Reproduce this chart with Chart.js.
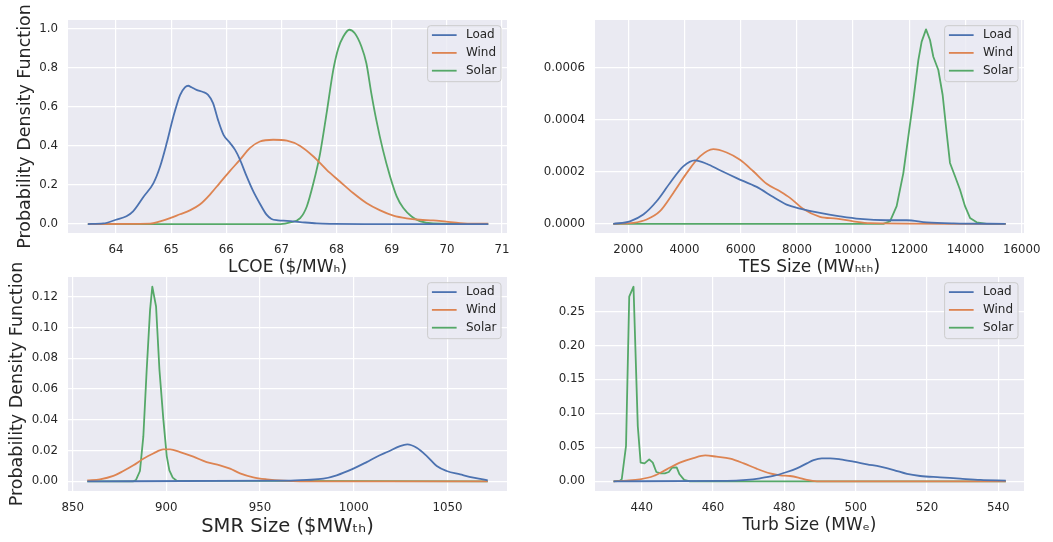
<!DOCTYPE html>
<html>
<head>
<meta charset="utf-8">
<script src="https://cdn.jsdelivr.net/npm/chart.js@4/dist/chart.umd.min.js"></script>
<style>
  html, body { margin: 0; padding: 0; background: #ffffff; }
  #wrap { position: relative; width: 1053px; height: 542px; }
  #wrap canvas { position: absolute; left: 0; top: 0; }
</style>
</head>
<body>
<div id="wrap">
  <canvas id="lcoe" width="1053" height="542"></canvas>
  <canvas id="tes" width="1053" height="542"></canvas>
  <canvas id="smr" width="1053" height="542"></canvas>
  <canvas id="turb" width="1053" height="542"></canvas>
</div>
<script>
const COLORS = { Load: "#4C72B0", Wind: "#DD8452", Solar: "#55A868" };
const FONT = "'DejaVu Sans', sans-serif";
const INK = "#262626";

// --- LCOE ($/MWh) ---
const lcoeLoadX = [63.49, 63.77, 64.0, 64.19, 64.31, 64.5, 64.68, 64.8, 64.92, 65.04, 65.16, 65.25, 65.31, 65.37, 65.46, 65.58, 65.67, 65.76, 65.85, 65.95, 66.07, 66.16, 66.25, 66.37, 66.49, 66.61, 66.73, 66.82, 66.94, 67.1, 67.34, 67.64, 67.94, 68.5, 69.5, 70.75];
const lcoeLoadY = [0, 0.003, 0.022, 0.04, 0.065, 0.14, 0.21, 0.295, 0.415, 0.55, 0.66, 0.70, 0.709, 0.701, 0.688, 0.677, 0.662, 0.62, 0.534, 0.457, 0.415, 0.38, 0.329, 0.244, 0.167, 0.104, 0.048, 0.026, 0.019, 0.016, 0.01, 0.003, 0.001, 0, 0, 0];
const lcoeWindX = [63.49, 64.62, 64.8, 64.98, 65.16, 65.34, 65.52, 65.7, 65.88, 66.06, 66.25, 66.43, 66.61, 66.85, 67.1, 67.34, 67.58, 67.82, 68.06, 68.3, 68.54, 68.79, 69.03, 69.27, 69.51, 69.75, 69.99, 70.24, 70.48, 70.75];
const lcoeWindY = [0, 0.002, 0.014, 0.03, 0.05, 0.07, 0.10, 0.15, 0.21, 0.27, 0.33, 0.39, 0.423, 0.432, 0.427, 0.40, 0.346, 0.278, 0.218, 0.159, 0.108, 0.07, 0.043, 0.029, 0.022, 0.019, 0.012, 0.005, 0.002, 0.002];
const lcoeSolarX = [63.49, 66.98, 67.16, 67.34, 67.46, 67.58, 67.7, 67.82, 67.94, 68.03, 68.12, 68.23, 68.33, 68.45, 68.54, 68.63, 68.72, 68.84, 68.97, 69.09, 69.21, 69.36, 69.51, 69.75, 70.75];
const lcoeSolarY = [0, 0, 0.008, 0.03, 0.09, 0.21, 0.36, 0.57, 0.79, 0.90, 0.96, 0.996, 0.978, 0.91, 0.824, 0.67, 0.534, 0.38, 0.244, 0.142, 0.082, 0.039, 0.015, 0.003, 0];
const lcoeXTicks = [64, 65, 66, 67, 68, 69, 70, 71];
const lcoeYTicks = [0, 0.2, 0.4, 0.6, 0.8, 1.0];
const lcoeYLabels = ["0.0", "0.2", "0.4", "0.6", "0.8", "1.0"];

// --- TES size (MWhth) ---
const tesLoadX = [1466, 2059, 2534, 3008, 3483, 3957, 4373, 4788, 5263, 5856, 6568, 7161, 7635, 8110, 8822, 9534, 10246, 11195, 11907, 12619, 13568, 15430];
const tesLoadY = [0, 0.00001, 0.000036, 0.000087, 0.000157, 0.000221, 0.000244, 0.000231, 0.000206, 0.000176, 0.000142, 0.000103, 0.000074, 0.000059, 0.000042, 0.000029, 0.000019, 0.000014, 0.000014, 0.000006, 0.000002, 0];
const tesWindX = [1466, 2178, 2653, 3127, 3602, 4076, 4551, 5025, 5500, 5975, 6449, 6924, 7398, 7754, 8229, 8822, 9415, 10008, 10602, 15430];
const tesWindY = [0, 0.000004, 0.000017, 0.000049, 0.000119, 0.000195, 0.000259, 0.000287, 0.000274, 0.000246, 0.000202, 0.000154, 0.000125, 0.0001, 0.000057, 0.000027, 0.00002, 0.00001, 0.000003, 0];
const tesSolarX = [1466, 11076, 11313, 11550, 11788, 11966, 12144, 12322, 12440, 12595, 12737, 12855, 13033, 13187, 13330, 13448, 13627, 13805, 13983, 14161, 14398, 14754, 15430];
const tesSolarY = [0, 0, 0.00001, 0.000068, 0.000195, 0.000336, 0.000476, 0.000629, 0.0007, 0.000747, 0.000706, 0.000642, 0.000591, 0.000495, 0.000349, 0.000234, 0.000183, 0.000131, 0.000068, 0.000023, 0.000006, 0, 0];
const tesXTicks = [2000, 4000, 6000, 8000, 10000, 12000, 14000, 16000];
const tesYTicks = [0, 0.0002, 0.0004, 0.0006];
const tesYLabels = ["0.0000", "0.0002", "0.0004", "0.0006"];

// --- SMR size ($MWth) ---
const smrLoadX = [857.8, 964.2, 974.9, 983.8, 990.9, 999.8, 1006.9, 1012.3, 1018.5, 1024.7, 1028.6, 1033.6, 1039.0, 1044.3, 1049.6, 1056.8, 1063.9, 1071.5];
const smrLoadY = [0, 0.0004, 0.0009, 0.0017, 0.0039, 0.0082, 0.0125, 0.016, 0.0194, 0.0229, 0.024, 0.0218, 0.0164, 0.0099, 0.0067, 0.0045, 0.0024, 0.0006];
const smrWindX = [857.8, 864.6, 871.7, 877.0, 882.4, 887.7, 893.0, 898.4, 902.0, 907.3, 914.4, 921.5, 928.6, 934.0, 939.3, 946.4, 953.6, 962.5, 971.4, 1071.5];
const smrWindY = [0.0006, 0.0013, 0.0035, 0.0067, 0.0104, 0.0147, 0.0181, 0.0207, 0.0207, 0.019, 0.016, 0.0125, 0.0104, 0.0082, 0.0052, 0.0026, 0.0013, 0.0004, 0, 0];
const smrSolarX = [857.8, 882.4, 883.8, 885.9, 887.7, 889.5, 891.3, 892.5, 894.5, 896.3, 898.4, 900.2, 901.6, 903.4, 905.5, 1071.5];
const smrSolarY = [0, 0, 0.0009, 0.0067, 0.029, 0.0725, 0.1114, 0.1265, 0.1136, 0.0725, 0.0401, 0.0164, 0.0071, 0.0024, 0.0004, 0];
const smrXTicks = [850, 900, 950, 1000, 1050];
const smrYTicks = [0, 0.02, 0.04, 0.06, 0.08, 0.10, 0.12];
const smrYLabels = ["0.00", "0.02", "0.04", "0.06", "0.08", "0.10", "0.12"];

// --- Turbine size (MWe) ---
const turbLoadX = [432.1, 463.8, 469.4, 473.2, 476.9, 480.7, 483.5, 486.3, 488.2, 490.5, 492.8, 495.7, 499.4, 503.2, 506.9, 510.7, 514.4, 518.1, 523.7, 529.3, 535.0, 542.1];
const turbLoadY = [0, 0.0005, 0.002, 0.0044, 0.0078, 0.0137, 0.0191, 0.0264, 0.0313, 0.0338, 0.0338, 0.0323, 0.0289, 0.025, 0.0215, 0.0166, 0.0108, 0.0078, 0.0059, 0.0039, 0.002, 0.001];
const turbWindX = [432.1, 435.8, 439.5, 443.3, 447.0, 450.7, 454.5, 457.8, 461.0, 464.8, 468.6, 472.2, 476.0, 478.8, 481.6, 483.9, 486.3, 489.1, 542.1];
const turbWindY = [0, 0.001, 0.0029, 0.0078, 0.0176, 0.0274, 0.0342, 0.0381, 0.0362, 0.0333, 0.0264, 0.0186, 0.0117, 0.0088, 0.0078, 0.0054, 0.002, 0, 0];
const turbSolarX = [432.1, 433.9, 434.4, 435.6, 436.5, 437.7, 438.9, 439.7, 440.8, 442.1, 443.1, 444.1, 445.3, 446.5, 447.6, 448.5, 449.8, 450.6, 451.9, 453.5, 542.1];
const turbSolarY = [0, 0.001, 0.003, 0.052, 0.272, 0.2865, 0.081, 0.0274, 0.0264, 0.0323, 0.0274, 0.0137, 0.0117, 0.0117, 0.0137, 0.02, 0.0205, 0.0103, 0.002, 0, 0];
const turbXTicks = [440, 460, 480, 500, 520, 540];
const turbYTicks = [0, 0.05, 0.10, 0.15, 0.20, 0.25];
const turbYLabels = ["0.00", "0.05", "0.10", "0.15", "0.20", "0.25"];

const axesBg = {
  id: "axesBg",
  beforeDraw(chart) {
    const { ctx, chartArea: a } = chart;
    ctx.save();
    ctx.fillStyle = "#EAEAF2";
    ctx.fillRect(a.left, a.top, a.right - a.left, a.bottom - a.top);
    ctx.restore();
  },
};

// matplotlib-like legend box in the upper right corner of the axes
const boxLegend = {
  id: "boxLegend",
  afterDraw(chart) {
    const { ctx, chartArea: a } = chart;
    const sets = chart.data.datasets;
    ctx.save();
    ctx.font = "12px " + FONT;
    const textW = Math.max(...sets.map((d) => ctx.measureText(d.label).width));
    const w = 4.3 + 24.7 + 9.3 + textW + 4.5;
    const h = 56;
    const x = a.right - 6 - w;
    const y = a.top + 5.7;
    ctx.beginPath();
    ctx.roundRect(x, y, w, h, 3);
    ctx.fillStyle = "rgba(234,234,242,0.8)";
    ctx.fill();
    ctx.strokeStyle = "#CCCCCC";
    ctx.lineWidth = 1;
    ctx.stroke();
    sets.forEach((d, i) => {
      const cy = y + 9.4 + i * 17.8;
      ctx.beginPath();
      ctx.moveTo(x + 4.3, cy);
      ctx.lineTo(x + 29, cy);
      ctx.strokeStyle = d.borderColor;
      ctx.lineWidth = 1.8;
      ctx.stroke();
      ctx.fillStyle = INK;
      ctx.textBaseline = "middle";
      ctx.textAlign = "left";
      ctx.fillText(d.label, x + 38.3, cy);
    });
    ctx.restore();
  },
};

function series(label, xs, ys, sharp) {
  return {
    label,
    data: xs.map((x, i) => ({ x, y: ys[i] })),
    borderColor: COLORS[label],
    backgroundColor: COLORS[label],
    borderWidth: 1.8,
    borderJoinStyle: "round",
    pointRadius: 0,
    fill: false,
    tension: 0,
    cubicInterpolationMode: sharp ? "default" : "monotone",
  };
}

function makeChart(id, cfg) {
  new Chart(document.getElementById(id), {
    type: "line",
    data: { datasets: cfg.datasets },
    options: {
      responsive: false,
      animation: false,
      devicePixelRatio: 1,
      events: [],
      layout: { padding: cfg.padding },
      plugins: { legend: { display: false }, tooltip: { enabled: false } },
      scales: {
        x: {
          type: "linear",
          min: cfg.xRange[0],
          max: cfg.xRange[1],
          afterBuildTicks: (s) => { s.ticks = cfg.xTicks.map((v) => ({ value: v })); },
          afterFit: (s) => { s.height = cfg.xH; s.paddingLeft = 0; s.paddingRight = 0; },
          ticks: {
            callback: (v) => String(v),
            font: { family: FONT, size: 11.8 },
            color: INK,
            padding: 10,
            maxRotation: 0,
            autoSkip: false,
          },
          grid: { color: "#FFFFFF", lineWidth: 1.2, drawTicks: false, tickLength: 0 },
          border: { display: false },
          title: {
            display: true,
            text: cfg.xTitle,
            font: { family: FONT, size: cfg.xTitleSize },
            color: INK,
            padding: { top: 0, bottom: 0 },
          },
        },
        y: {
          type: "linear",
          min: cfg.yRange[0],
          max: cfg.yRange[1],
          afterBuildTicks: (s) => { s.ticks = cfg.yTicks.map((v) => ({ value: v })); },
          afterFit: (s) => { s.width = cfg.yW; s.paddingTop = 0; s.paddingBottom = 0; },
          ticks: {
            callback: (v, i) => cfg.yLabels[i],
            font: { family: FONT, size: 11.8 },
            color: INK,
            padding: 10,
            autoSkip: false,
          },
          grid: { color: "#FFFFFF", lineWidth: 1.2, drawTicks: false, tickLength: 0 },
          border: { display: false },
          title: {
            display: !!cfg.yTitle,
            text: cfg.yTitle || "",
            font: { family: FONT, size: 17.5 },
            color: INK,
            padding: { top: cfg.yTitlePad || 0, bottom: 0 },
          },
        },
      },
    },
    plugins: [axesBg, boxLegend],
  });
}

makeChart("lcoe", {
  datasets: [
    series("Load", lcoeLoadX, lcoeLoadY),
    series("Wind", lcoeWindX, lcoeWindY),
    series("Solar", lcoeSolarX, lcoeSolarY),
  ],
  padding: { left: 0, top: 20, right: 546, bottom: 264.4 },
  xRange: [63.13, 71.09], yRange: [-0.046, 1.046],
  xTicks: lcoeXTicks, yTicks: lcoeYTicks, yLabels: lcoeYLabels,
  xTitle: "LCOE ($/MW\u2095)", xTitleSize: 17, xH: 44.6,
  yTitle: "Probability Density Function", yTitlePad: 15, yW: 68,
});

makeChart("tes", {
  datasets: [
    series("Load", tesLoadX, tesLoadY),
    series("Wind", tesWindX, tesWindY),
    series("Solar", tesSolarX, tesSolarY, true),
  ],
  padding: { left: 520, top: 20, right: 29, bottom: 264.7 },
  xRange: [815, 16082], yRange: [-0.000035, 0.000783],
  xTicks: tesXTicks, yTicks: tesYTicks, yLabels: tesYLabels,
  xTitle: "TES Size (MW\u2095\u209C\u2095)", xTitleSize: 17, xH: 44.3,
  yW: 75,
});

makeChart("smr", {
  datasets: [
    series("Load", smrLoadX, smrLoadY),
    series("Wind", smrWindX, smrWindY),
    series("Solar", smrSolarX, smrSolarY, true),
  ],
  padding: { left: 0, top: 277, right: 546, bottom: 3.8 },
  xRange: [847.5, 1081.8], yRange: [-0.0063, 0.1328],
  xTicks: smrXTicks, yTicks: smrYTicks, yLabels: smrYLabels,
  xTitle: "SMR Size ($MW\u209C\u2095)", xTitleSize: 19.5, xH: 47.2,
  yTitle: "Probability Density Function", yTitlePad: 7, yW: 68,
});

makeChart("turb", {
  datasets: [
    series("Load", turbLoadX, turbLoadY),
    series("Wind", turbWindX, turbWindY),
    series("Solar", turbSolarX, turbSolarY, true),
  ],
  padding: { left: 520, top: 277, right: 29, bottom: 6 },
  xRange: [426.9, 547.2], yRange: [-0.0143, 0.3008],
  xTicks: turbXTicks, yTicks: turbYTicks, yLabels: turbYLabels,
  xTitle: "Turb Size (MW\u2091)", xTitleSize: 17, xH: 45,
  yW: 75,
});
</script>
</body>
</html>
